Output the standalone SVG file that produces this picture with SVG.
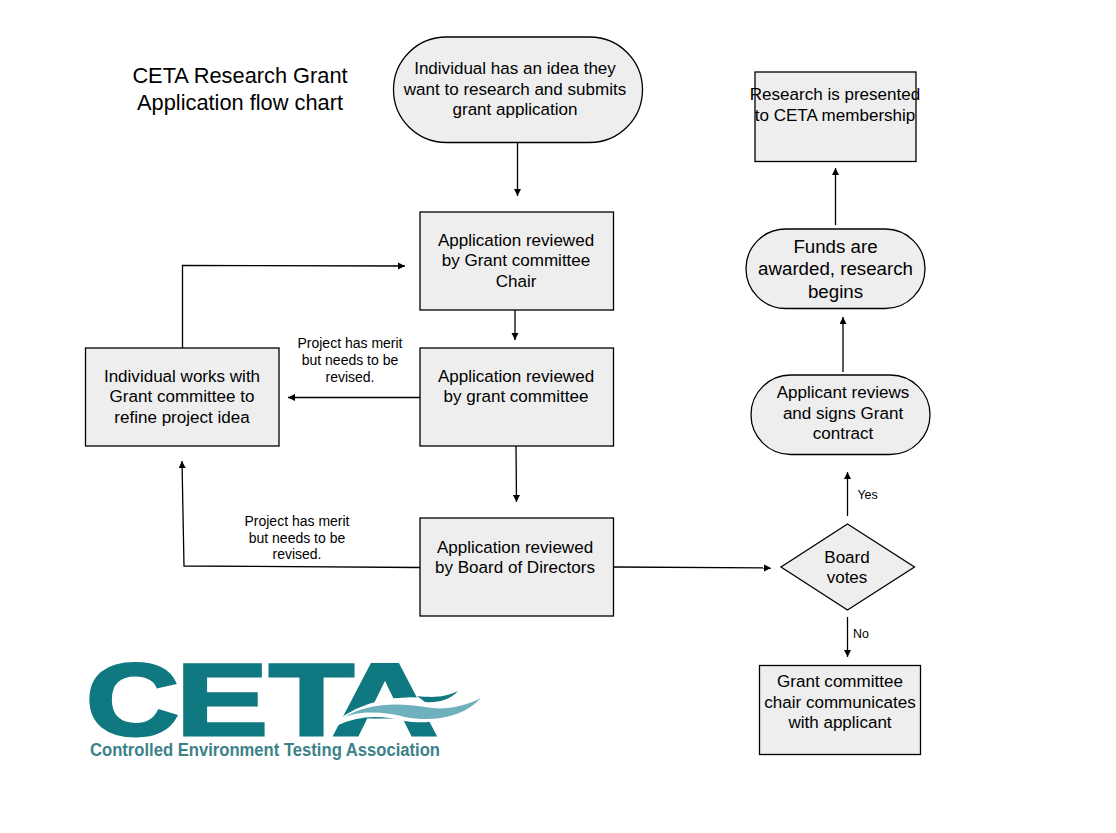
<svg xmlns="http://www.w3.org/2000/svg" width="1116" height="833" viewBox="0 0 1116 833">
<style>
text{font-family:"Liberation Sans",Arial,sans-serif;fill:#000;text-anchor:middle}
.n{fill:#eeeeee;stroke:#000;stroke-width:1.3}
.t{font-size:17.050px}
.s{font-size:14px}
.y{font-size:12.400px}
.h{font-size:21.800px}
.c{fill:none;stroke:#000;stroke-width:1.3}
</style>
<defs><marker id="a" markerUnits="userSpaceOnUse" markerWidth="10" markerHeight="10" refX="7" refY="3.500" orient="auto"><path d="M0 0L7 3.500L0 7Z" fill="#000"/></marker></defs>
<rect width="1116" height="833" fill="#fff"/>
<g id="title"><text class="h" x="240" y="83">CETA Research Grant</text><text class="h" x="240" y="110">Application flow chart</text></g>
<g id="connectors">
<path class="c" marker-end="url(#a)" d="M517.500 142.500L517.500 196"/>
<path class="c" marker-end="url(#a)" d="M515 310L515 340"/>
<path class="c" marker-end="url(#a)" d="M516 446L516.500 502"/>
<path class="c" marker-end="url(#a)" d="M420 397.500L288 397.500"/>
<path class="c" marker-end="url(#a)" d="M182.500 348L182.500 265.500L405 266"/>
<path class="c" marker-end="url(#a)" d="M420 567.500L184 566L182 461"/>
<path class="c" marker-end="url(#a)" d="M613.500 567L771 568"/>
<path class="c" marker-end="url(#a)" d="M847.500 516L847.500 472"/>
<path class="c" marker-end="url(#a)" d="M847.500 617L847.500 657"/>
<path class="c" marker-end="url(#a)" d="M843 372L843 317"/>
<path class="c" marker-end="url(#a)" d="M835.500 225L835.500 168"/>
</g>
<g id="n1"><rect class="n" x="393.500" y="37" width="249" height="105.500" rx="52.700"/><text class="t"><tspan x="515" y="74">Individual has an idea they</tspan><tspan x="515" y="95">want to research and submits</tspan><tspan x="515" y="115">grant application</tspan></text></g>
<g id="n2"><rect class="n" x="420" y="212" width="193.500" height="98"/><text class="t"><tspan x="516" y="246">Application reviewed</tspan><tspan x="516" y="266">by Grant committee</tspan><tspan x="516" y="287">Chair</tspan></text></g>
<g id="n3"><rect class="n" x="420" y="348" width="193.500" height="98"/><text class="t"><tspan x="516" y="382">Application reviewed</tspan><tspan x="516" y="402">by grant committee</tspan></text></g>
<g id="n4"><rect class="n" x="420" y="518" width="193.500" height="98"/><text class="t"><tspan x="515" y="553">Application reviewed</tspan><tspan x="515" y="573">by Board of Directors</tspan></text></g>
<g id="n5"><rect class="n" x="85.500" y="348" width="193.500" height="98"/><text class="t"><tspan x="182" y="382">Individual works with</tspan><tspan x="182" y="402">Grant committee to</tspan><tspan x="182" y="423">refine project idea</tspan></text></g>
<g id="n6"><rect class="n" x="755" y="72" width="161" height="89.500"/><text class="t"><tspan x="835" y="100">Research is presented</tspan><tspan x="835" y="121">to CETA membership</tspan></text></g>
<g id="n7"><rect class="n" x="746" y="229" width="179" height="79.500" rx="39.700"/><text class="t" style="font-size:18.700px"><tspan x="835.500" y="253">Funds are</tspan><tspan x="835.500" y="275">awarded, research</tspan><tspan x="835.500" y="298">begins</tspan></text></g>
<g id="n8"><rect class="n" x="751" y="375" width="179" height="79.500" rx="39.700"/><text class="t"><tspan x="843" y="398">Applicant reviews</tspan><tspan x="843" y="419">and signs Grant</tspan><tspan x="843" y="439">contract</tspan></text></g>
<g id="n9"><path class="n" d="M847.500 524L914.500 567L847.500 610L781 567Z"/><text class="t"><tspan x="847" y="563">Board</tspan><tspan x="847" y="583">votes</tspan></text></g>
<g id="n10"><rect class="n" x="759.500" y="665.500" width="161" height="89"/><text class="t"><tspan x="840" y="687">Grant committee</tspan><tspan x="840" y="708">chair communicates</tspan><tspan x="840" y="728">with applicant</tspan></text></g>
<g id="labels">
<text class="s"><tspan x="350" y="348">Project has merit</tspan><tspan x="350" y="365">but needs to be</tspan><tspan x="350" y="382">revised.</tspan></text>
<text class="s"><tspan x="297" y="526">Project has merit</tspan><tspan x="297" y="543">but needs to be</tspan><tspan x="297" y="559">revised.</tspan></text>
<text class="y" x="867.500" y="499">Yes</text>
<text class="y" x="861" y="638">No</text>
</g>
<g id="logo">
<text y="735" style="font-size:102px;font-weight:bold;fill:#0f7880;stroke:#0f7880;stroke-width:3;text-anchor:start"><tspan x="86" textLength="93" lengthAdjust="spacingAndGlyphs">C</tspan><tspan x="176" textLength="92" lengthAdjust="spacingAndGlyphs">E</tspan><tspan x="269" textLength="85" lengthAdjust="spacingAndGlyphs">T</tspan><tspan x="332" textLength="106" lengthAdjust="spacingAndGlyphs">A</tspan></text>
<path d="M336 724C362 702 398 697 425 700C445 702 462 697 482 690L482 697C462 714 430 724 405 719C385 714 360 712 336 724Z" fill="#fff" stroke="#fff" stroke-width="4"/>
<path d="M343 718C365 704 395 702 425 707C445 711 465 706 481 698C465 716 435 723 405 717C385 712 360 710 343 718Z" fill="#6fb0bd"/>
<path d="M417 696C435 698 445 697 458 691C450 700 438 703 425 702Z" fill="#0f7880"/>
<text x="90" y="756" textLength="350" lengthAdjust="spacingAndGlyphs" style="font-size:17.500px;font-weight:bold;fill:#3b8289;text-anchor:start">Controlled Environment Testing Association</text>
</g>
</svg>
